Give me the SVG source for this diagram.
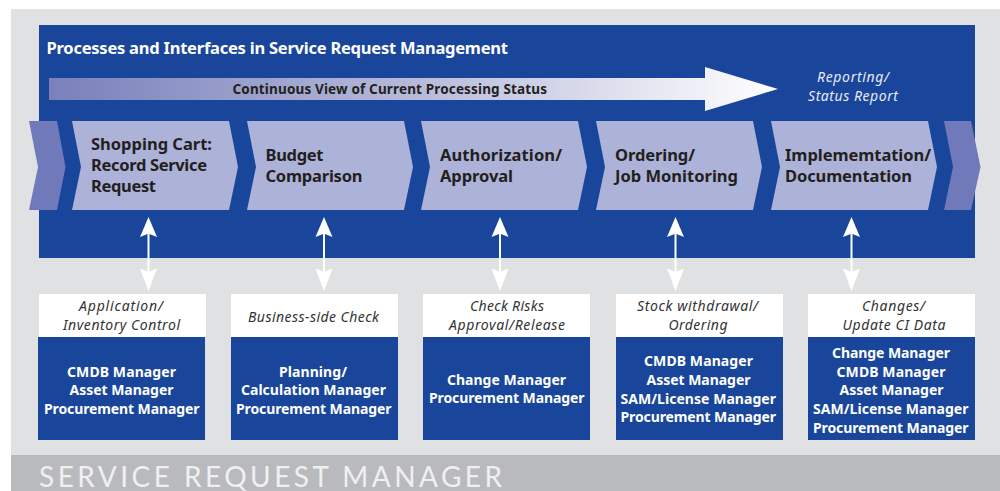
<svg xmlns="http://www.w3.org/2000/svg" width="1000" height="491" viewBox="0 0 1000 491">
<style>
text{font-family:"Noto Sans","Open Sans","Liberation Sans",sans-serif}
.title{font-size:16.5px;font-weight:700;fill:#fff}
.step{font-size:16.5px;font-weight:700;fill:#231f20}
.mid{font-size:13.5px;font-weight:700;fill:#231f20}
.note{font-size:14px;font-style:italic;fill:#333}
.rep{font-size:14px;font-style:italic;fill:#e8eaf5}
.role{font-size:14px;font-weight:700;fill:#fff}
.chev{fill:#adb2d8}
.end{fill:#7079b9}
.blue{fill:#19469b}
.wh{fill:#fff}
.link{fill:#fff}
.band{font-family:Lato,"Noto Sans",sans-serif;font-size:28px;fill:#f0f0f1}
</style>
<defs>
<linearGradient id="g" x1="49" x2="778" y1="0" y2="0" gradientUnits="userSpaceOnUse">
<stop offset="0" stop-color="#7980bb"/><stop offset="0.5" stop-color="#b6bada"/><stop offset="1" stop-color="#ffffff"/>
</linearGradient>
<path id="dbl" d="M0 0L8.500 20L1 17V54.500L8.500 51.500L0 74L-8.500 51.500L-1 54.500V17L-8.500 20Z"/>
</defs>
<rect x="11" y="9" width="989" height="446" fill="#e0e1e3"/>
<rect x="11" y="455" width="989" height="36" fill="#b9babd"/>
<rect class="blue" x="39" y="25" width="936" height="233"/>
<text class="title" x="46.500" y="54" textLength="461.500">Processes and Interfaces in Service Request Management</text>
<g id="status-arrow">
<polygon points="49,78 705,78 705,67 778,89 705,111 705,100 49,100" fill="url(#g)"/>
<text class="mid" x="232.500" y="94" textLength="314.500">Continuous View of Current Processing Status</text>
</g>
<g id="reporting">
<text class="rep" x="817" y="82" textLength="72">Reporting/</text>
<text class="rep" x="808" y="101" textLength="90">Status Report</text>
</g>
<g id="start-chevron"><polygon class="end" points="29,121 57,121 65.500,167 57,210 29,210 38,167"/></g>
<g id="step-1"><polygon class="chev" points="72,121 229,121 238,167 229,210 72,210 81,167"/>
<text class="step" x="91" y="150" textLength="121">Shopping Cart:</text>
<text class="step" x="91" y="171" textLength="116">Record Service</text>
<text class="step" x="91" y="192" textLength="65">Request</text></g>
<g id="step-2"><polygon class="chev" points="247,121 404,121 413,167 404,210 247,210 256,167"/>
<text class="step" x="265.500" y="161" textLength="58">Budget</text>
<text class="step" x="265.500" y="182" textLength="97">Comparison</text></g>
<g id="step-3"><polygon class="chev" points="421,121 578,121 587,167 578,210 421,210 430,167"/>
<text class="step" x="440" y="161" textLength="122">Authorization/</text>
<text class="step" x="440" y="182" textLength="73">Approval</text></g>
<g id="step-4"><polygon class="chev" points="596,121 753,121 762,167 753,210 596,210 605,167"/>
<text class="step" x="615" y="161" textLength="80">Ordering/</text>
<text class="step" x="615" y="182" textLength="123">Job Monitoring</text></g>
<g id="step-5"><polygon class="chev" points="771,121 928,121 937,167 928,210 771,210 780,167"/>
<text class="step" x="785" y="161" textLength="146">Implememtation/</text>
<text class="step" x="785" y="182" textLength="127">Documentation</text></g>
<g id="end-chevron"><polygon class="end" points="944,121 971,121 980.500,167 971,210 944,210 953,167"/></g>
<g id="connectors" class="link">
<use href="#dbl" x="148.500" y="217"/>
<use href="#dbl" x="324" y="217"/>
<use href="#dbl" x="500" y="217"/>
<use href="#dbl" x="675.500" y="217"/>
<use href="#dbl" x="851.500" y="217"/>
</g>
<g id="box-1"><rect class="wh" x="39" y="294" width="167" height="43"/><rect class="blue" x="38" y="337" width="167" height="103"/>
<text class="note" x="79" y="311" textLength="84">Application/</text>
<text class="note" x="63" y="330" textLength="117">Inventory Control</text>
<text class="role" x="67" y="377" textLength="109">CMDB Manager</text>
<text class="role" x="69.500" y="395" textLength="104">Asset Manager</text>
<text class="role" x="44" y="414" textLength="155.500">Procurement Manager</text></g>
<g id="box-2"><rect class="wh" x="231" y="294" width="167" height="43"/><rect class="blue" x="231" y="337" width="167" height="103"/>
<text class="note" x="248" y="322" textLength="131">Business-side Check</text>
<text class="role" x="279" y="377" textLength="68">Planning/</text>
<text class="role" x="241" y="395" textLength="145">Calculation Manager</text>
<text class="role" x="236" y="414" textLength="155.500">Procurement Manager</text></g>
<g id="box-3"><rect class="wh" x="423" y="294" width="167" height="43"/><rect class="blue" x="423" y="337" width="167" height="103"/>
<text class="note" x="470" y="311" textLength="74">Check Risks</text>
<text class="note" x="449" y="330" textLength="116">Approval/Release</text>
<text class="role" x="447" y="385" textLength="119">Change Manager</text>
<text class="role" x="429" y="403" textLength="155.500">Procurement Manager</text></g>
<g id="box-4"><rect class="wh" x="616" y="294" width="167" height="43"/><rect class="blue" x="616" y="337" width="167" height="103"/>
<text class="note" x="637" y="311" textLength="121">Stock withdrawal/</text>
<text class="note" x="668.500" y="330" textLength="59">Ordering</text>
<text class="role" x="644" y="366" textLength="109">CMDB Manager</text>
<text class="role" x="646.500" y="385" textLength="104">Asset Manager</text>
<text class="role" x="620.500" y="404" textLength="155.500">SAM/License Manager</text>
<text class="role" x="620.500" y="422" textLength="155.500">Procurement Manager</text></g>
<g id="box-5"><rect class="wh" x="808" y="294" width="167" height="43"/><rect class="blue" x="808" y="337" width="167" height="103"/>
<text class="note" x="862" y="311" textLength="63">Changes/</text>
<text class="note" x="842.500" y="330" textLength="103">Update CI Data</text>
<text class="role" x="832" y="358" textLength="118">Change Manager</text>
<text class="role" x="836.500" y="377" textLength="109">CMDB Manager</text>
<text class="role" x="839.500" y="395" textLength="104">Asset Manager</text>
<text class="role" x="813" y="414" textLength="155.500">SAM/License Manager</text>
<text class="role" x="813" y="433" textLength="155.500">Procurement Manager</text></g>
<text class="band" x="39" y="486.500" textLength="463">SERVICE REQUEST MANAGER</text>
</svg>
